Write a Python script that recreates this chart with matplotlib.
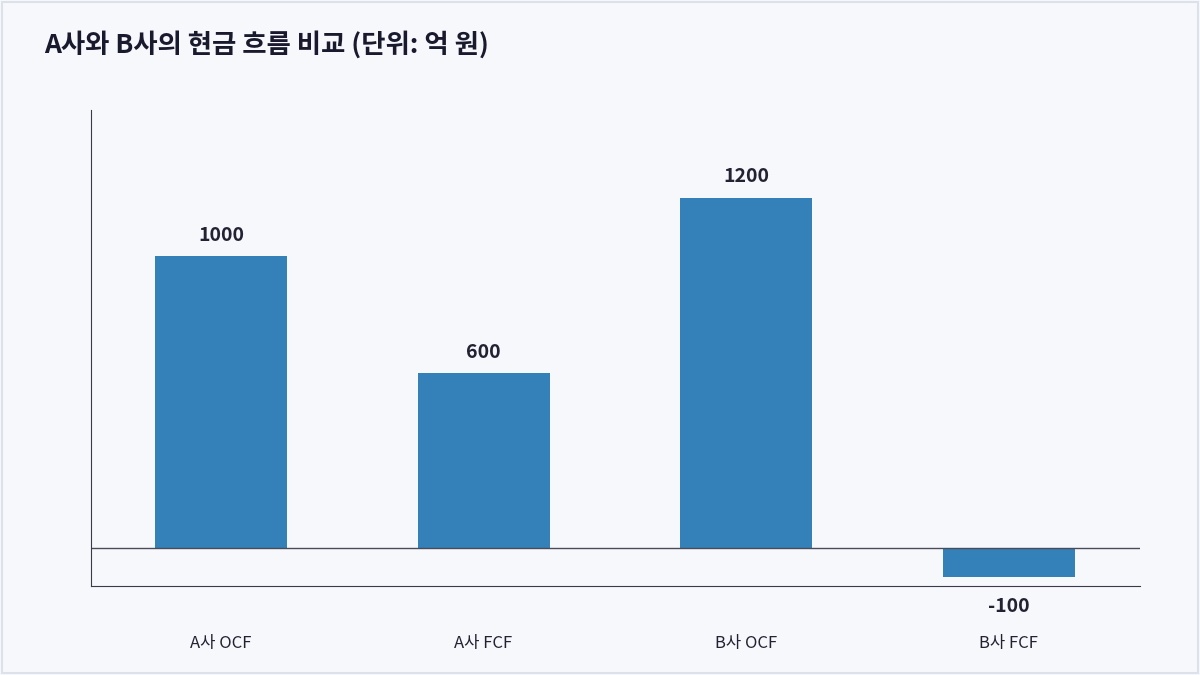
import matplotlib
matplotlib.use("Agg")
import matplotlib.pyplot as plt
from matplotlib.patches import Rectangle

plt.rcParams['font.family'] = ['Noto Sans CJK KR', 'DejaVu Sans']

categories = ["A사 OCF", "A사 FCF", "B사 OCF", "B사 FCF"]
values = [1000, 600, 1200, -100]

bg = "#f7f8fc"
fig = plt.figure(figsize=(12, 6.75), dpi=100, facecolor=bg)
fig.patches.append(Rectangle((0.002, 0.003), 0.996, 0.994, transform=fig.transFigure,
                             fill=False, edgecolor="#dde1ea", linewidth=1.5))
ax = fig.add_axes([91/1200, 1-586/675, (1140-91)/1200, (586-110)/675], facecolor=bg)
x = range(len(categories))
ax.bar(x, values, width=0.503, color="#3381b8")
ax.set_xlim(-0.495, 3.5)
ax.set_ylim(-130, 1500)
ax.axhline(0, color="#4a4a5a", linewidth=1)
for s in ["top", "right"]:
    ax.spines[s].set_visible(False)
for s in ["left", "bottom"]:
    ax.spines[s].set_color("#3a3a4a")
ax.set_yticks([])
ax.set_xticks(list(x))
ax.set_xticklabels(categories, fontsize=12, color="#222233")
ax.tick_params(axis="x", length=0, pad=35)
for i, v in zip(x, values):
    if v >= 0:
        ax.annotate(str(v), (i, v), xytext=(0, 8), textcoords="offset points",
                    ha="center", va="bottom", fontsize=14, fontweight="bold", color="#222233")
    else:
        ax.annotate(str(v), (i, v), xytext=(0, -14), textcoords="offset points",
                    ha="center", va="top", fontsize=14, fontweight="bold", color="#222233")
fig.text(44/1200, 1-45/675, "A사와 B사의 현금 흐름 비교 (단위: 억 원)", fontsize=19,
         fontweight="bold", color="#1a1a2e", va="center", ha="left")
fig.savefig("out.png", dpi=100, facecolor=bg)
